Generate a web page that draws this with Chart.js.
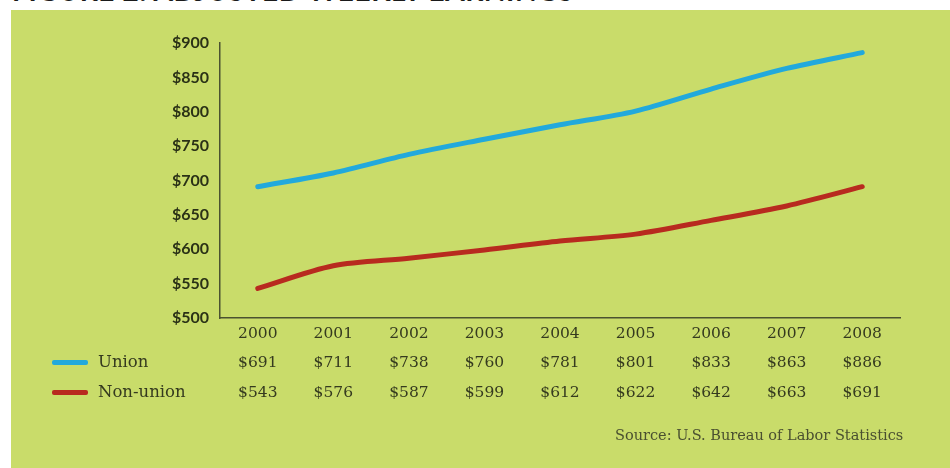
<!DOCTYPE html>
<html>
<head>
<meta charset="utf-8">
<script src="https://cdn.jsdelivr.net/npm/chart.js@4"></script>
<style>
  body { margin: 0; background: #fff; width: 950px; height: 468px; overflow: hidden; position: relative; }
  #title { position: absolute; left: 12px; top: -24px; font: 700 28px Lato, sans-serif; color: #1a1a1a; white-space: nowrap; letter-spacing: 0.6px; line-height: 28px; }
  #panel { position: absolute; left: 11px; top: 10px; width: 939px; height: 458px; background: #c9dc6a; }
  #chart { position: absolute; left: 0; top: 0; }
  .key { position: absolute; left: 41px; font: 16.5px "DejaVu Serif", serif; color: #353a1f; height: 20px; line-height: 20px; }
  .key span { display: inline-block; width: 36px; height: 5px; vertical-align: middle; margin-right: 10px; border-radius: 2px; }
  #source { position: absolute; left: 604px; top: 417px; font: 14.5px "DejaVu Serif", serif; color: #4a5030; }
</style>
</head>
<body>
<div id="title">FIGURE 2: ADJUSTED WEEKLY EARNINGS</div>
<div id="panel">
  <canvas id="chart" width="939" height="458"></canvas>
  <div class="key" style="top:342px"><span style="background:#22a9dc"></span>Union</div>
  <div class="key" style="top:372px"><span style="background:#b82a1f"></span>Non-union</div>
  <div id="source">Source: U.S. Bureau of Labor Statistics</div>
</div>
<script>
const $ = (id) => document.getElementById(id);

const years = ['2000', '2001', '2002', '2003', '2004', '2005', '2006', '2007', '2008'];
const union = [691, 711, 738, 760, 781, 801, 833, 863, 886];
const nonUnion = [543, 576, 587, 599, 612, 622, 642, 663, 691];

const inkDark = '#2a3116';
const inkTable = '#353a1f';
const axisColor = '#4b5230';

new Chart($('chart').getContext('2d'), {
  type: 'line',
  data: {
    labels: years,
    datasets: [
      {
        label: 'Union',
        data: union,
        borderColor: '#22a9dc',
        borderWidth: 5,
        tension: 0.3,
        pointRadius: 0,
        borderCapStyle: 'round',
      },
      {
        label: 'Non-union',
        data: nonUnion,
        borderColor: '#b82a1f',
        borderWidth: 5,
        tension: 0.3,
        pointRadius: 0,
        borderCapStyle: 'round',
      }
    ]
  },
  options: {
    responsive: false,
    animation: false,
    layout: {
      padding: { left: 0, right: 50, top: 33, bottom: 0 }
    },
    plugins: {
      legend: { display: false },
      tooltip: { enabled: false }
    },
    scales: {
      x: {
        offset: true,
        afterFit: (scale) => { scale.height = 150; },
        grid: { display: false, drawTicks: false },
        border: { display: true, color: axisColor, width: 1.5 },
        ticks: {
          autoSkip: false,
          maxRotation: 0,
          padding: 1,
          color: inkTable,
          font: { family: '"DejaVu Serif", serif', size: 15.5, lineHeight: '29.5px' },
          callback: function(value, i) {
            return [years[i], `$${union[i]}`, `$${nonUnion[i]}`];
          }
        }
      },
      y: {
        min: 500,
        max: 900,
        afterFit: (scale) => { scale.width = 209; },
        grid: { display: false, drawTicks: false },
        border: { display: true, color: axisColor, width: 1.5 },
        ticks: {
          stepSize: 50,
          padding: 11,
          color: inkDark,
          font: { family: 'Lato, sans-serif', size: 16, weight: 'bold' },
          callback: (value) => `$${value}`
        }
      }
    }
  }
});
</script>
</body>
</html>
